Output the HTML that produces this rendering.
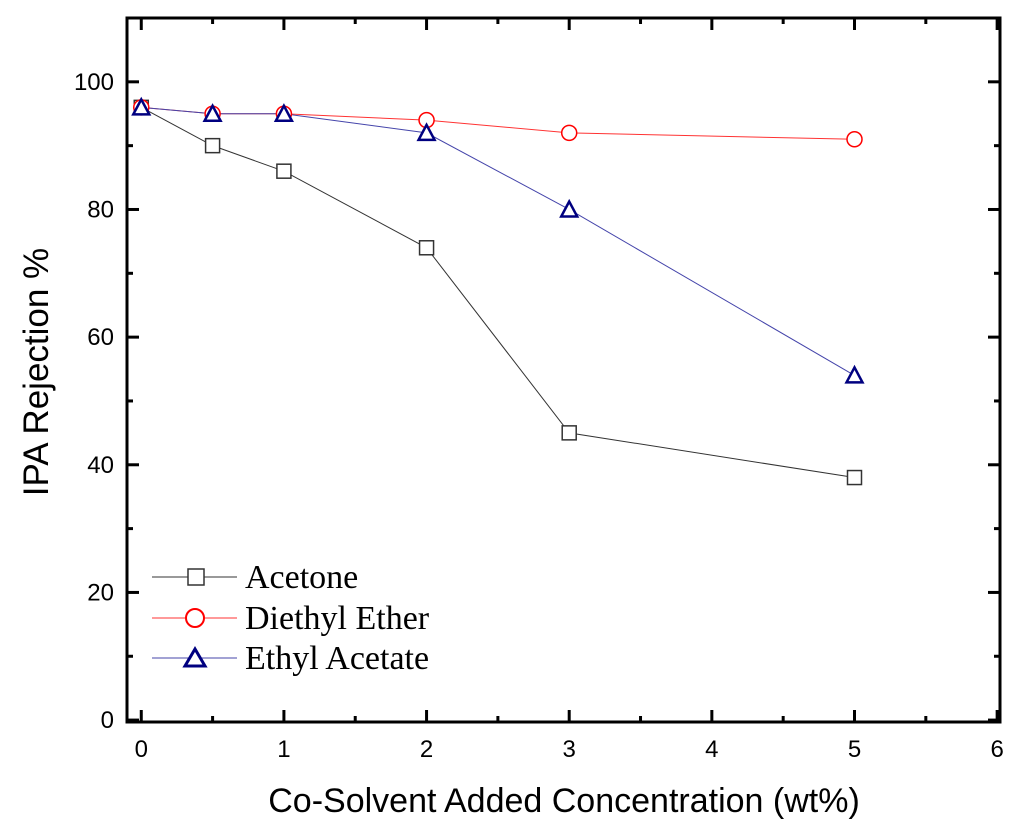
<!DOCTYPE html>
<html><head><meta charset="utf-8"><style>
html,body{margin:0;padding:0;background:#fff;}
svg{display:block;font-family:"Liberation Sans",sans-serif;}
</style></head><body>
<svg id="chart" width="1024" height="833" viewBox="0 0 1024 833" xmlns="http://www.w3.org/2000/svg">
<g id="plot"></g>
</svg>
<script>
const categories = [0, 0.5, 1, 2, 3, 5];
const acetone = [96, 90, 86, 74, 45, 38];
const diethylEther = [96, 95, 95, 94, 92, 91];
const ethylAcetate = [96, 95, 95, 92, 80, 54];
const xTicks = [0, 1, 2, 3, 4, 5, 6];
const yTicks = [0, 20, 40, 60, 80, 100];
const seriesNames = ["Acetone", "Diethyl Ether", "Ethyl Acetate"];

const L = 127, R = 1000, T = 18, B = 722;
const xMin = -0.1, xMax = 6.02, yMin = -0.3, yMax = 110;
const xs = v => L + (v - xMin) / (xMax - xMin) * (R - L);
const ys = v => B - (v - yMin) / (yMax - yMin) * (B - T);
const NS = "http://www.w3.org/2000/svg";
const g = document.getElementById('plot');
function mk(tag, attrs, parent) {
  const e = document.createElementNS(NS, tag);
  for (const k in attrs) e.setAttribute(k, attrs[k]);
  (parent || g).appendChild(e);
  return e;
}
for (let v = 0; v <= 6; v += 0.5) {
  const major = Number.isInteger(v), len = major ? 12 : 6, x = xs(v);
  const t1 = mk('line', {x1: x, x2: x, y1: B, y2: B - len, stroke: '#000', 'stroke-width': 3});
  
  
  const t2 = mk('line', {x1: x, x2: x, y1: T, y2: T + len, stroke: '#000', 'stroke-width': 3});
  
  
}
for (let v = 0; v <= 110; v += 10) {
  const major = v % 20 === 0, len = major ? 12 : 6, y = ys(v);
  const t1 = mk('line', {x1: L, x2: L + len, y1: y, y2: y, stroke: '#000', 'stroke-width': 3});
  
  
  const t2 = mk('line', {x1: R, x2: R - len, y1: y, y2: y, stroke: '#000', 'stroke-width': 3});
  
  
}
const frame = mk('rect', {x: L, y: T, width: R - L, height: B - T, fill: 'none', stroke: '#000', 'stroke-width': 3});


xTicks.forEach(v => {
  const t = mk('text', {x: xs(v), y: 757, 'font-size': 24, 'text-anchor': 'middle'});
  t.textContent = v;
  
  
});
yTicks.forEach(v => {
  const t = mk('text', {x: 114, y: ys(v) + 8, 'font-size': 24, 'text-anchor': 'end'});
  t.textContent = v;
  
  
});
const xt = mk('text', {x: 564, y: 812, 'font-size': 34, 'text-anchor': 'middle'});
xt.textContent = 'Co-Solvent Added Concentration (wt%)';


const yt = mk('text', {x: 0, y: 0, 'font-size': 35, 'text-anchor': 'middle', transform: 'translate(48,372) rotate(-90)'});
yt.textContent = 'IPA Rejection %';



function marker(type, x, y, color, parent) {
  let m;
  if (type === 'square') m = mk('rect', {x: x - 7, y: y - 7, width: 14, height: 14, fill: '#fff', stroke: color, 'stroke-width': 1.5}, parent);
  else if (type === 'circle') m = mk('circle', {cx: x, cy: y, r: 7.5, fill: '#fff', stroke: color, 'stroke-width': 1.5}, parent);
  else m = mk('polygon', {points: `${x},${y - 8} ${x - 8},${y + 7} ${x + 8},${y + 7}`, fill: '#fff', stroke: color, 'stroke-width': 2.5}, parent);
  return m;
}
const series = [
  {vals: acetone, line: '#333', type: 'square', mcolor: '#333'},
  {vals: diethylEther, line: '#f33', type: 'circle', mcolor: '#f00'},
  {vals: ethylAcetate, line: '#44a', type: 'triangle', mcolor: '#000080'}
];
series.forEach((s, i) => {
  const pts = s.vals.map((v, j) => xs(categories[j]) + ',' + ys(v)).join(' ');
  const pl = mk('polyline', {points: pts, fill: 'none', stroke: s.line, 'stroke-width': 1});
  
  
});
series.forEach((s, i) => {
  s.vals.forEach((v, j) => {
    const m = marker(s.type, xs(categories[j]), ys(v), s.mcolor);
    
    
  });
});
const lg = mk('g', {});


const rowsY = [577, 618, 658];
series.forEach((s, i) => {
  const ln = mk('line', {x1: 152, x2: 237, y1: rowsY[i], y2: rowsY[i], stroke: s.line, 'stroke-width': 1}, lg);
  
  
  const m = s.type === 'square'
    ? mk('rect', {x: 188, y: rowsY[i] - 8, width: 16, height: 16, fill: '#fff', stroke: '#333', 'stroke-width': 1.5}, lg)
    : s.type === 'circle'
    ? mk('circle', {cx: 195, cy: rowsY[i], r: 9, fill: '#fff', stroke: '#f00', 'stroke-width': 2}, lg)
    : mk('polygon', {points: `195,${rowsY[i] - 9} 185,${rowsY[i] + 8} 205,${rowsY[i] + 8}`, fill: '#fff', stroke: '#000080', 'stroke-width': 3}, lg);
  
  
  const t = mk('text', {x: 245, y: rowsY[i] + 11, 'font-size': 34, 'font-family': '"Liberation Serif", serif'}, lg);
  t.textContent = seriesNames[i];
  
  
});
</script>
</body></html>
